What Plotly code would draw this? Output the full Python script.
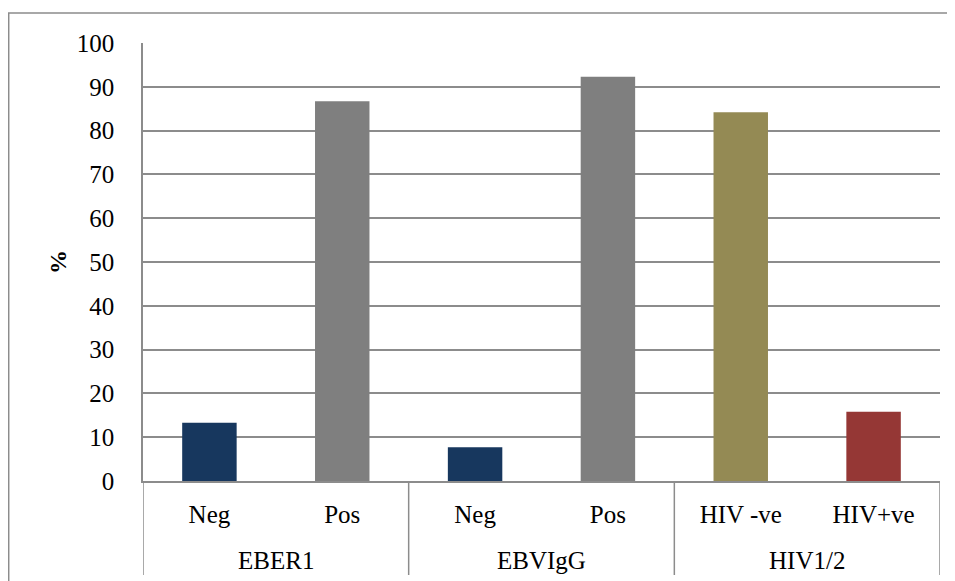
import plotly.graph_objects as go

groups = ["EBER1", "EBER1", "EBVIgG", "EBVIgG", "HIV1/2", "HIV1/2"]
labels = ["Neg", "Pos", "Neg", "Pos", "HIV -ve", "HIV+ve"]
values = [13.3, 86.7, 7.7, 92.3, 84.2, 15.8]
colors = ["#17375E", "#7F7F7F", "#17375E", "#7F7F7F", "#948A54", "#953735"]
y_ticks = [0, 10, 20, 30, 40, 50, 60, 70, 80, 90, 100]

FONT = "Liberation Serif, Times New Roman, serif"
GRID = "#8C8C8C"

x_idx = list(range(len(values)))

fig = go.Figure(
    go.Bar(
        x=x_idx,
        y=values,
        marker=dict(color=colors, line=dict(width=0)),
        width=0.41,
        showlegend=False,
    )
)

fig.update_layout(
    width=955,
    height=581,
    margin=dict(l=135, r=23, t=35, b=108, autoexpand=False),
    paper_bgcolor="white",
    plot_bgcolor="white",
    font=dict(family=FONT, size=25, color="black"),
)

fig.update_xaxes(
    range=[-0.5, len(values) - 0.5],
    tickvals=x_idx,
    ticktext=labels,
    showline=True,
    linecolor=GRID,
    linewidth=1.5,
    tickfont=dict(family=FONT, size=25, color="black"),
    showgrid=False,
    zeroline=False,
    ticks="",
    ticklabelstandoff=10,
)

fig.update_yaxes(
    range=[0, 100],
    tickvals=y_ticks,
    ticktext=[str(v) for v in y_ticks],
    showgrid=True,
    gridcolor=GRID,
    gridwidth=1.5,
    showline=True,
    linecolor=GRID,
    linewidth=1.5,
    zeroline=False,
    ticks="",
    ticklabelstandoff=22,
    tickfont=dict(family=FONT, size=25, color="black"),
    title=dict(text="<b>%</b>", font=dict(family=FONT, size=24, color="black"), standoff=3),
)

# group labels and dividers, derived from the group list
group_names = []
for g in groups:
    if g not in group_names:
        group_names.append(g)
for g in group_names:
    idx = [i for i, gg in enumerate(groups) if gg == g]
    fig.add_annotation(
        x=sum(idx) / len(idx), xref="x", y=-0.1804, yref="paper",
        text=g, showarrow=False, yanchor="middle",
        font=dict(family=FONT, size=25, color="black"),
    )
boundaries = [-0.5] + [i + 0.5 for i in range(len(groups) - 1) if groups[i] != groups[i + 1]] + [len(groups) - 0.5]
for b in boundaries:
    fig.add_shape(
        type="line", xref="x", yref="paper", x0=b, x1=b, y0=0, y1=-0.2146,
        line=dict(color=GRID, width=1.5),
    )

# outer chart border (top and left visible in reference)
fig.add_shape(
    type="rect", xref="paper", yref="paper",
    x0=-0.1685, x1=1.05, y0=-0.3, y1=1.0685,
    line=dict(color=GRID, width=1.5), fillcolor="rgba(0,0,0,0)", layer="below",
)

fig.write_html("out.html")
